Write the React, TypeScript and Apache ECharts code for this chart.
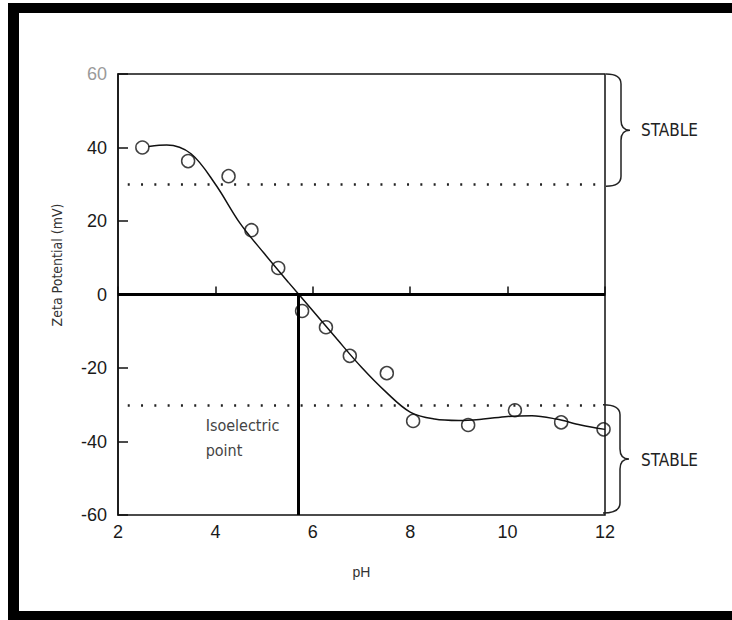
import React, { useEffect, useRef } from "react";
import * as echarts from "echarts";

// Measured data points (pH, zeta potential in mV)
const phPoints = [2.5, 3.44, 4.27, 4.74, 5.29, 5.78, 6.27, 6.76, 7.52, 8.06, 9.19, 10.15, 11.1, 11.97];
const zetaPoints = [40, 36.3, 32.2, 17.5, 7.2, -4.5, -8.9, -16.7, -21.4, -34.4, -35.5, -31.5, -34.8, -36.7];

// Fitted curve
const fitPh = [2.63, 3.0, 3.5, 4.0, 4.5, 5.0, 5.5, 6.0, 6.5, 7.0, 7.5, 8.0, 8.5, 9.0, 9.5, 10.0, 10.5, 11.0, 11.5, 12.0];
const fitZeta = [40.3, 40.7, 38.3, 30, 19.5, 11.2, 3.3, -4.4, -12.2, -19.8, -26.5, -32, -33.9, -34.3, -33.9, -33.2, -33.0, -33.9, -35.5, -36.7];

const stableLimits = [30, -30];
const isoelectricPh = 5.7;
const xTicks = { min: 2, max: 12, interval: 2 };
const yTicks = { min: -60, max: 60, interval: 20 };
const stableLabel = "STABLE";
const isoLabel = "Isoelectric\npoint";

const Brace = (echarts as any).graphic.extendShape({
  shape: { x: 0, y1: 0, y2: 0, w: 15, t: 9, q: 10 },
  buildPath(ctx: any, s: any) {
    const m = (s.y1 + s.y2) / 2;
    const xs = s.x + s.w;
    ctx.moveTo(s.x, s.y1);
    ctx.quadraticCurveTo(xs, s.y1, xs, s.y1 + s.q);
    ctx.lineTo(xs, m - s.q);
    ctx.quadraticCurveTo(xs, m, xs + s.t, m);
    ctx.quadraticCurveTo(xs, m, xs, m + s.q);
    ctx.lineTo(xs, s.y2 - s.q);
    ctx.quadraticCurveTo(xs, s.y2, s.x, s.y2);
  },
});
(echarts as any).graphic.registerShape("brace", Brace);

const FONT = "'Liberation Sans', Arial, sans-serif";
const NARROW = "'Liberation Sans Narrow', 'Arial Narrow', 'DejaVu Sans Condensed', sans-serif";

export default function App() {
  const ref = useRef<HTMLDivElement>(null);

  useEffect(() => {
    if (!ref.current) return;
    const chart = echarts.init(ref.current, null, { renderer: "svg" });
    const option: any = {
      animation: false,
      backgroundColor: "#fff",
      grid: {
        left: 118,
        right: 127,
        top: 74,
        bottom: 105,
        show: true,
        borderColor: "#111",
        borderWidth: 1.5,
        backgroundColor: "transparent",
      },
      xAxis: {
        type: "value",
        min: xTicks.min,
        max: xTicks.max,
        interval: xTicks.interval,
        name: "pH",
        nameLocation: "middle",
        nameGap: 50,
        nameTextStyle: { fontFamily: FONT, fontSize: 14, color: "#333" },
        axisLine: { lineStyle: { color: "#111", width: 1.5 } },
        axisTick: { inside: true, length: 8, lineStyle: { color: "#111", width: 1.5 } },
        axisLabel: { fontFamily: FONT, fontSize: 18, color: "#1a1a1a", margin: 8 },
        splitLine: { show: false },
      },
      yAxis: {
        type: "value",
        min: yTicks.min,
        max: yTicks.max,
        interval: yTicks.interval,
        name: "Zeta Potential (mV)",
        nameLocation: "middle",
        nameGap: 54,
        nameTextStyle: { fontFamily: NARROW, fontSize: 14, color: "#333", padding: [0, 0, 0, 59] },
        axisLine: { lineStyle: { color: "#111", width: 1.5 } },
        axisTick: { inside: true, length: 10, lineStyle: { color: "#111", width: 1.5 } },
        axisLabel: {
          fontFamily: FONT,
          fontSize: 18,
          margin: 11,
          color: (v: any) => (Number(v) === 60 ? "#9a9a9a" : "#1a1a1a"),
        },
        splitLine: { show: false },
      },
      series: [
        {
          type: "line",
          data: fitPh.map((x, i) => [x, fitZeta[i]]),
          smooth: 0.35,
          showSymbol: false,
          symbol: "none",
          lineStyle: { color: "#111", width: 1.5 },
          z: 3,
          markLine: {
            silent: true,
            symbol: "none",
            label: { show: false },
            data: [
              [
                { coord: [xTicks.min, 0], lineStyle: { color: "#000", width: 3, type: "solid" } },
                { coord: [xTicks.max, 0] },
              ],
              [
                { coord: [isoelectricPh, yTicks.min], lineStyle: { color: "#000", width: 3, type: "solid" } },
                { coord: [isoelectricPh, 0] },
              ],
              ...stableLimits.map((v) => [
                { coord: [2.2, v], lineStyle: { color: "#222", width: 2.5, type: [2, 11.3] } },
                { coord: [xTicks.max, v] },
              ]),
            ],
          },
        },
        {
          type: "scatter",
          data: phPoints.map((x, i) => [x, zetaPoints[i]]),
          symbol: "circle",
          symbolSize: 13,
          itemStyle: { color: "none", borderColor: "#111", borderWidth: 1.5 },
          z: 4,
        },
      ],
    };
    chart.setOption(option);

    const px = (x: number, y: number) => chart.convertToPixel({ seriesIndex: 0 }, [x, y]) as number[];
    const topA = px(xTicks.max, yTicks.max);
    const topB = px(xTicks.max, stableLimits[0]);
    const botA = px(xTicks.max, stableLimits[1]);
    const botB = px(xTicks.max, yTicks.min);
    const iso = px(3.8, -32.3);
    const braceStyle = { stroke: "#222", fill: "none", lineWidth: 1.5 };
    chart.setOption({
      graphic: [
        { type: "brace", shape: { x: topA[0] + 1, y1: topA[1], y2: topB[1] + 2, w: 15, t: 9, q: 10 }, style: braceStyle, silent: true },
        { type: "brace", shape: { x: botA[0] - 2, y1: botA[1], y2: botB[1] - 2, w: 17, t: 9, q: 10 }, style: braceStyle, silent: true },
        {
          type: "text",
          x: topA[0] + 36,
          y: (topA[1] + topB[1]) / 2 + 1,
          style: { text: stableLabel, fontFamily: NARROW, fontSize: 17, fill: "#222", verticalAlign: "middle", align: "left" },
          silent: true,
        },
        {
          type: "text",
          x: botA[0] + 36,
          y: (botA[1] + botB[1]) / 2,
          style: { text: stableLabel, fontFamily: NARROW, fontSize: 17, fill: "#222", verticalAlign: "middle", align: "left" },
          silent: true,
        },
        {
          type: "text",
          x: iso[0],
          y: iso[1],
          style: { text: isoLabel, fontFamily: NARROW, fontSize: 16, lineHeight: 25, fill: "#444", verticalAlign: "top", align: "left" },
          silent: true,
        },
      ],
    });
    return () => chart.dispose();
  }, []);

  const bar = (s: React.CSSProperties): React.CSSProperties => ({ position: "absolute", background: "#000", pointerEvents: "none", ...s });

  return (
    <div style={{ position: "fixed", left: 0, top: 0, width: 732, height: 620, background: "#fff" }}>
      <div ref={ref} style={{ position: "absolute", left: 0, top: 0, width: 732, height: 620 }} />
      <div style={bar({ left: 8, top: 3, width: 724, height: 10 })} />
      <div style={bar({ left: 8, top: 3, width: 11, height: 617 })} />
      <div style={bar({ left: 8, top: 611, width: 724, height: 9 })} />
    </div>
  );
}
